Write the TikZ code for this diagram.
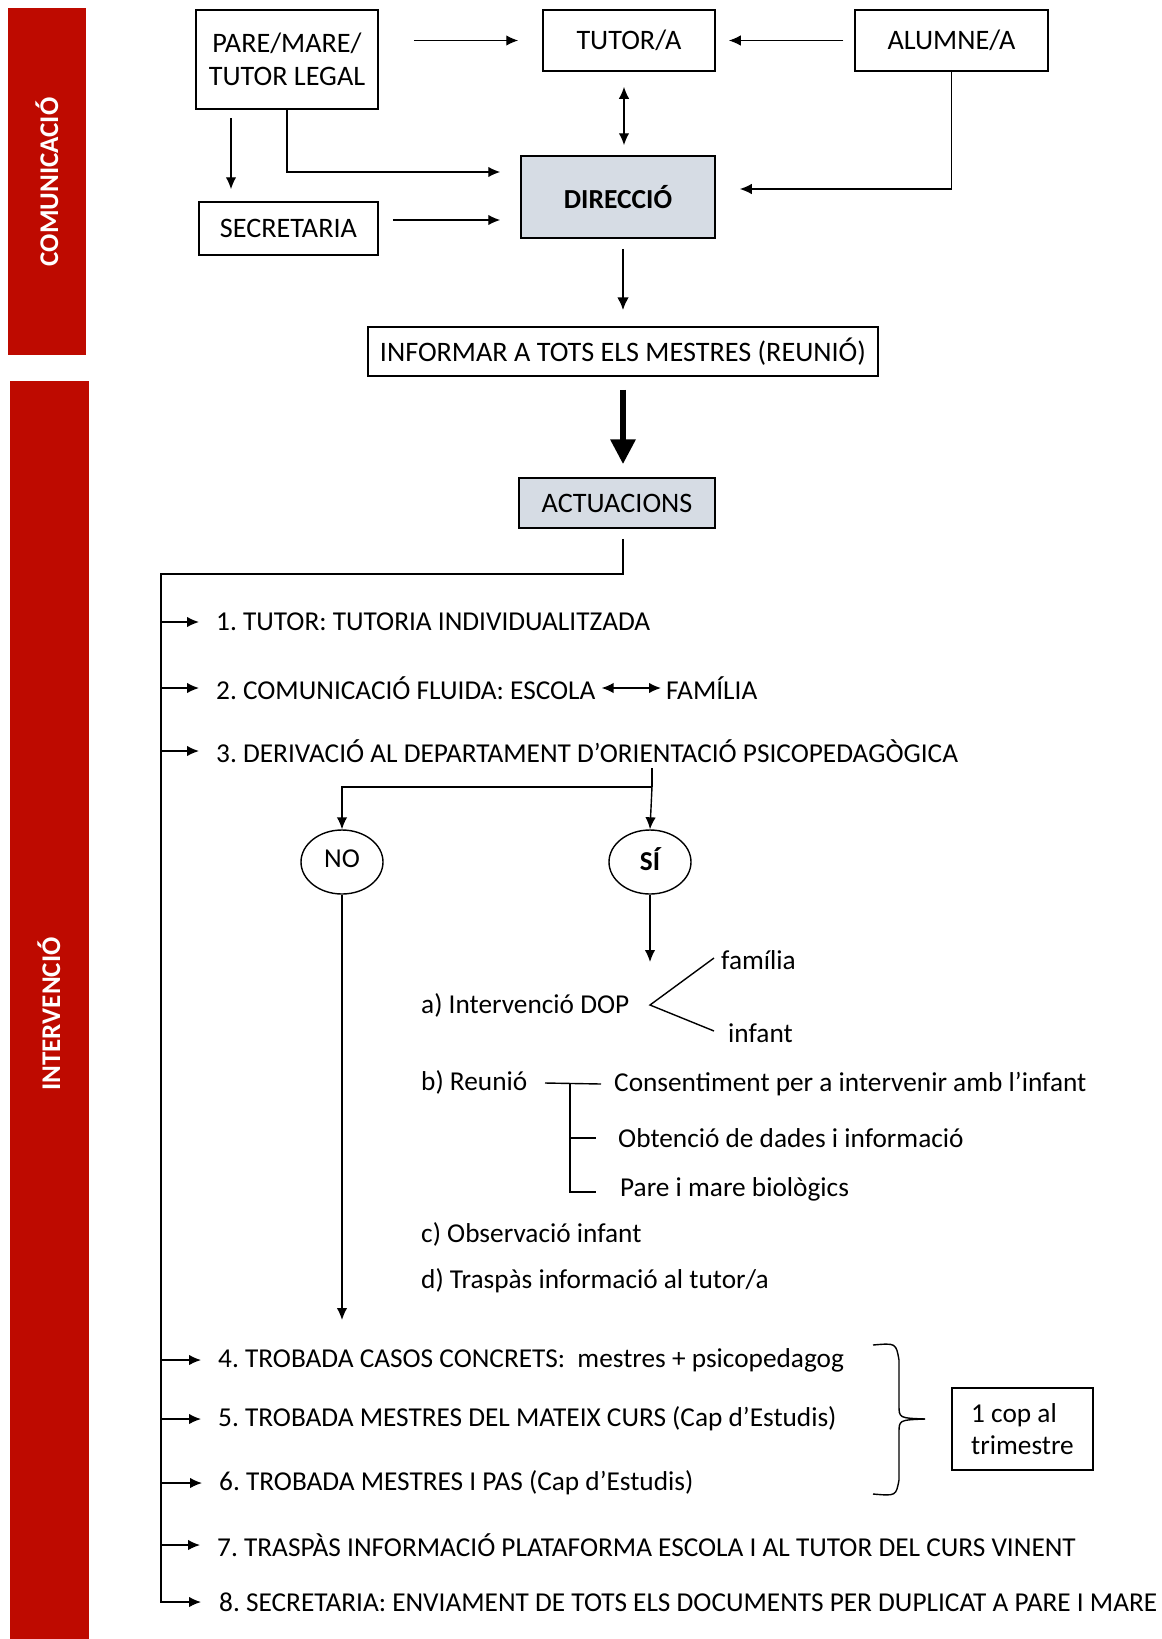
\documentclass[tikz,border=0pt]{standalone}
\usepackage{fontspec}
\setmainfont{Carlito}
\usetikzlibrary{arrows.meta,calc,shapes.geometric}
\definecolor{barred}{RGB}{190,10,0}
\definecolor{boxfill}{RGB}{214,220,228}
\frenchspacing
\begin{document}
\begin{tikzpicture}[x=1pt,y=-1pt,
  every node/.style={font=\fontsize{27.3}{32}\selectfont},
  box/.style={draw,line width=1.5pt,minimum width=#1,inner sep=0pt,align=center,font=\fontsize{28.2}{33}\selectfont},
  txt/.style={anchor=west,inner sep=0pt},
  conn/.style={line width=1.4pt,-{Latex[length=12pt,width=10.5pt]}},
  dbl/.style={line width=1.4pt,{Latex[length=12pt,width=10.5pt]}-{Latex[length=12pt,width=10.5pt]}},
  plain/.style={line width=1.4pt},
  sidetxt/.style={text=white,font=\fontsize{27}{31}\selectfont\bfseries,rotate=90}
]
\useasboundingbox (0,0) rectangle (1162,1639);
% side bars
\fill[barred] (8,8) rectangle (86,355);
\fill[barred] (10,381) rectangle (89,1639);
\node[sidetxt] (com) at (47,182) {COMUNICACIÓ};
\node[sidetxt] (int) at (49,1014) {INTERVENCIÓ};
% top boxes
\node[box=182pt,minimum height=99pt] (pare) at (287,59.5) {PARE/MARE/\\TUTOR LEGAL};
\node[box=172pt,minimum height=61pt] (tut) at (629,40.5) {TUTOR/A};
\node[box=193pt,minimum height=61pt] (alu) at (951.5,40.5) {ALUMNE/A};
\node[box=179pt,minimum height=53pt] (sec) at (288.5,228.5) {SECRETARIA};
\node[box=194pt,minimum height=82pt,fill=boxfill,font=\fontsize{27.5}{32}\selectfont\bfseries] (dir) at (618,197) {DIRECCIÓ};
\node[box=510pt,minimum height=49pt] (inf) at (623,351.5) {INFORMAR A TOTS ELS MESTRES (REUNIÓ)};
\node[box=196pt,minimum height=50pt,fill=boxfill] (act) at (617,503) {ACTUACIONS};
% top connectors
\draw[conn,shorten <=35pt,shorten >=24pt] (pare.east |- tut.west) -- (tut.west);
\draw[conn,shorten <=11pt,shorten >=13pt] (alu.west) -- (tut.east);
\draw[dbl,shorten <=15pt,shorten >=10pt] ($(tut.south)+(-5,0)$) -- ($(dir.north)+(6,0)$);
\coordinate (p1) at (231,109);
\draw[conn,shorten <=9pt,shorten >=12pt] (p1) -- (p1 |- sec.north);
\draw[conn,shorten >=20pt] (pare.south) |- ($(dir.west)+(0,-25)$);
\draw[conn,shorten <=14pt,shorten >=20pt] ($(sec.east)+(0,-8.5)$) -- ($(sec.east -| dir.west)+(0,-8.5)$);
\draw[conn,shorten >=24pt] (alu.south) |- ($(dir.east)+(0,-8)$);
\draw[line width=2.6pt,-{Latex[length=13pt,width=12pt]},shorten <=10pt,shorten >=16pt] ($(dir.south)+(5,0)$) -- (inf.north);
\draw[line width=6.5pt,-{Triangle[length=25pt,width=24pt]},shorten <=13pt,shorten >=13pt] (inf.south) -- ($(act.north)+(6,0)$);
% items
\node[txt] (i1) at (216,622) {1. TUTOR: TUTORIA INDIVIDUALITZADA};
\node[txt] (i2) at (216,688) {2. COMUNICACIÓ FLUIDA: ESCOLA};
\node[txt] (i2b) at (666,688) {FAMÍLIA};
\node[txt] (i3) at (216,751) {3. DERIVACIÓ AL DEPARTAMENT D’ORIENTACIÓ PSICOPEDAGÒGICA};
\node[txt] (i4) at (218,1360) {4. TROBADA CASOS CONCRETS:\ \ mestres + psicopedagog};
\node[txt] (i5) at (218,1419) {5. TROBADA MESTRES DEL MATEIX CURS (Cap d’Estudis)};
\node[txt] (i6) at (219,1483) {6. TROBADA MESTRES I PAS (Cap d’Estudis)};
\node[txt] (i7) at (217,1545) {7. TRASPÀS INFORMACIÓ PLATAFORMA ESCOLA I AL TUTOR DEL CURS VINENT};
\node[txt] (i8) at (219,1602) {8. SECRETARIA: ENVIAMENT DE TOTS ELS DOCUMENTS PER DUPLICAT A PARE I MARE};
\coordinate (top) at (161,574);
\draw[conn,shorten <=10pt,shorten >=18pt] ($(act.south)+(6,0)$) |- (top) |- (i8.west);
\foreach \n in {i1,i2,i3,i4,i5,i6,i7}{
  \draw[conn,shorten >=17pt] (top |- \n.west) -- (\n.west);
}
\draw[dbl,shorten <=6pt,shorten >=5pt] (i2.east) -- (i2b.west);
% NO / SI
\node[draw,ellipse,line width=1.4pt,minimum width=82pt,minimum height=64pt,inner sep=0pt] (no) at (342,862) {\raisebox{6pt}{NO}};
\node[draw,ellipse,line width=1.4pt,minimum width=82pt,minimum height=64pt,inner sep=0pt,font=\fontsize{27.3}{32}\selectfont\bfseries] (si) at (650,862) {\raisebox{6pt}{SÍ}};
\coordinate (b3) at (652,787);
\draw[plain] (652,768) -- (b3);
\draw[conn] (b3) -| (no.north);
\draw[conn] (b3) -- (si.north);
\coordinate (noend) at (342,1320);
\draw[conn] (no.south) -- (noend);
\coordinate (siend) at (650,962);
\draw[conn] (si.south) -- (siend);
% SI details
\node[txt] (a) at (421,1005) {a) Intervenció DOP};
\node[txt] (fam) at (721,960) {família};
\node[txt] (infa) at (728,1033) {infant};
\coordinate (cv) at (650,1005);
\draw[plain] ($(fam.west)+(-7,-2)$) -- (cv) -- ($(infa.west)+(-14,-2)$);
\node[txt] (b) at (421,1082) {b) Reunió};
\node[txt] (b1) at (614,1084) {Consentiment per a intervenir amb l’infant};
\node[txt] (b2) at (618,1138) {Obtenció de dades i informació};
\node[txt] (b3t) at (620,1189) {Pare i mare biològics};
\coordinate (bv) at (570,1083);
\draw[plain] (545,1083) -- ($(b1.west)+(-13,0)$);
\draw[plain] (bv) |- ($(b3t.west)+(-24,3)$);
\draw[plain] (bv |- b2.west) -- ($(b2.west)+(-22,0)$);
\node[txt] (c) at (421,1234) {c) Observació infant};
\node[txt] (d) at (421,1281) {d) Traspàs informació al tutor/a};
% brace and box
\node[draw,line width=1.5pt,minimum width=141pt,minimum height=82pt,align=left,inner sep=0pt] (cop) at (1022.5,1429) {1 cop al\\trimestre};
\coordinate (tip) at (925,1419);
\draw[plain] (873,1345) .. controls (896,1343) .. (899,1360) -- (899,1405) .. controls (899,1418) .. (tip);
\draw[plain] (tip) .. controls (899,1420) .. (899,1433) -- (899,1480) .. controls (896,1496) .. (873,1494);
\end{tikzpicture}
\end{document}
